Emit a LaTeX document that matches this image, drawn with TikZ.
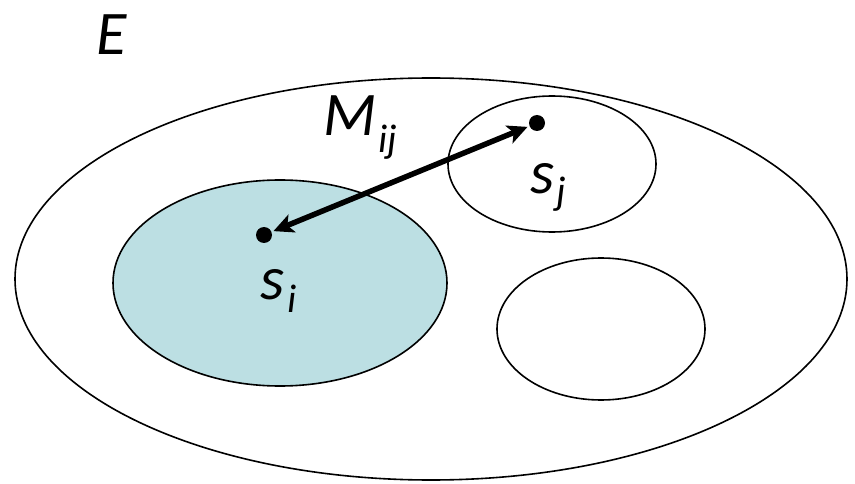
\documentclass[tikz,border=0pt]{standalone}
\usepackage{fontspec}
\setmainfont{Carlito}
\usetikzlibrary{arrows.meta}
\definecolor{setblue}{HTML}{BCDFE3}
\tikzset{
  setell/.style={draw=black, line width=1.6pt},
  dotpt/.style={circle, fill=black, inner sep=0pt, minimum size=16pt},
  lbl/.style={inner sep=0pt, anchor=base west, font=\fontsize{62}{62}\selectfont\itshape},
  sub/.style={inner sep=0pt, anchor=base west, font=\fontsize{40}{40}\selectfont\itshape},
  link/.style={line width=5.5pt, {Stealth[length=20pt,width=19pt,inset=5pt]}-{Stealth[length=20pt,width=19pt,inset=5pt]}, shorten <=2pt, shorten >=2pt}
}
\begin{document}
\begin{tikzpicture}[x=1pt,y=-1pt]
\useasboundingbox (0,0) rectangle (855,484);
\draw[setell] (431,279) ellipse [x radius=416, y radius=201];
\draw[setell, fill=setblue] (280,283) ellipse [x radius=167, y radius=103];
\draw[setell] (552,164) ellipse [x radius=104, y radius=68];
\draw[setell] (601,329) ellipse [x radius=104, y radius=71];
\node[dotpt] (si) at (264,235) {};
\node[dotpt] (sj) at (537,123) {};
\draw[link] (si) -- (sj);
\node[lbl] (E) at (96,55) {E};
\node[lbl] (M) at (323,136) {M};
\node[sub] (Mij) at (378,153) {ij};
\node[lbl] (sjl) at (530,194) {s};
\node[sub] (sjs) at (556,205) {j};
\node[lbl] (sil) at (260,299) {s};
\node[sub] (sis) at (287,312) {i};
\end{tikzpicture}
\end{document}
